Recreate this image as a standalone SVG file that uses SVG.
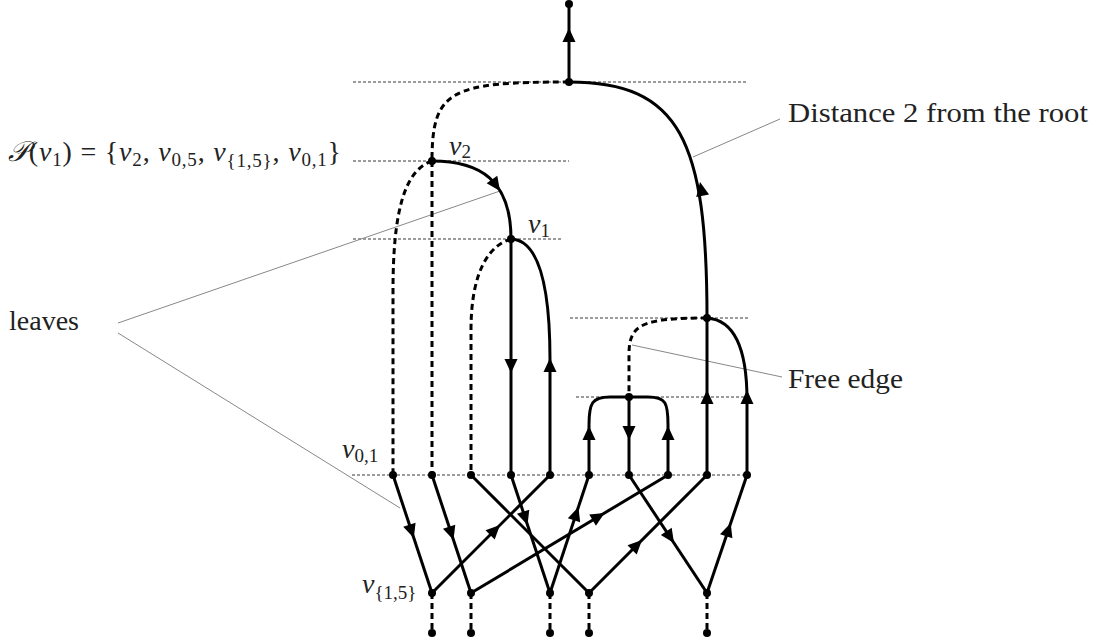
<svg xmlns="http://www.w3.org/2000/svg" xmlns:xlink="http://www.w3.org/1999/xlink" width="1100" height="643" viewBox="0 0 1100 643">
<style>
  .guide{stroke:#222;stroke-width:0.9;stroke-dasharray:3 2;fill:none}
  .ptr{stroke:#888;stroke-width:1;fill:none}
  .e{stroke:#000;stroke-width:3;fill:none;stroke-linecap:butt}
  .d{stroke:#000;stroke-width:3;fill:none;stroke-dasharray:6 4}
  .dot{fill:#000}
  .ah{fill:#000}
  text{font-family:"Liberation Serif","DejaVu Serif",serif;fill:#222;font-size:28px}
  .i{font-style:italic}
  .sub{font-size:19px}
</style>
<defs>
  <path id="ah" d="M0,0 L-14,-6.5 L-14,6.5 Z"/>
</defs>
<rect width="1100" height="643" fill="#fff"/>

<g id="guides">
  <line class="guide" x1="353" y1="82" x2="748" y2="82"/>
  <line class="guide" x1="353" y1="161" x2="569" y2="161"/>
  <line class="guide" x1="353" y1="239" x2="562" y2="239"/>
  <line class="guide" x1="570" y1="318" x2="748" y2="318"/>
  <line class="guide" x1="576" y1="397" x2="744" y2="397"/>
  <line class="guide" x1="352" y1="475" x2="747" y2="475"/>
</g>

<g id="pointers">
  <line class="ptr" x1="780" y1="119" x2="693" y2="157"/>
  <line class="ptr" x1="782" y1="377" x2="632" y2="345"/>
  <line class="ptr" x1="118" y1="323" x2="500" y2="191"/>
  <line class="ptr" x1="118" y1="333" x2="400" y2="508"/>
</g>

<g id="connectors">
  <!-- upper tree -->
  <path class="e" d="M569,82 V4"/>
  <path class="d" d="M569,82 C450,82 432,90 432,161"/>
  <path class="e" d="M569,82 C680,82 707,140 707,318"/>
  <path class="d" d="M432,161 V475"/>
  <path class="d" d="M432,161 C405,170 393,210 393,290 V475"/>
  <path class="e" d="M432,161 C480,161 511,180 511,239"/>
  <path class="e" d="M511,239 V475"/>
  <path class="d" d="M511,239 C490,245 471,270 471,330 V475"/>
  <path class="e" d="M511,239 C540,240 550,290 550,360 V475"/>
  <path class="d" d="M707,318 C640,318 629,325 629,355 V397"/>
  <path class="e" d="M707,318 V475"/>
  <path class="e" d="M707,318 C735,320 747,350 747,400 V475"/>
  <path class="e" d="M629,397 V475"/>
  <path class="e" d="M629,397 L610,397 C592,397 589,403 589,425 V475"/>
  <path class="e" d="M629,397 L648,397 C666,397 668,403 668,425 V475"/>
  <!-- crossing layer -->
  <path class="e" d="M393,475 L432,593"/>
  <path class="e" d="M432,475 L471,593"/>
  <path class="e" d="M471,475 L589,593"/>
  <path class="e" d="M511,475 L550,593"/>
  <path class="e" d="M432,593 L550,475"/>
  <path class="e" d="M550,593 L589,475"/>
  <path class="e" d="M471,593 L668,475"/>
  <path class="e" d="M589,593 L707,475"/>
  <path class="e" d="M629,475 L707,593"/>
  <path class="e" d="M707,593 L747,475"/>
  <!-- bottom stubs -->
  <path class="d" d="M432,593 V633"/>
  <path class="d" d="M471,593 V633"/>
  <path class="d" d="M550,593 V633"/>
  <path class="d" d="M589,593 V633"/>
  <path class="d" d="M707,593 V633"/>
  <!-- arrowheads -->
  <use xlink:href="#ah" class="ah" transform="translate(569,28) rotate(-90)"/>
  <use xlink:href="#ah" class="ah" transform="translate(500,191) rotate(55)"/>
  <use xlink:href="#ah" class="ah" transform="translate(511,373) rotate(90)"/>
  <use xlink:href="#ah" class="ah" transform="translate(550,358) rotate(-90)"/>
  <use xlink:href="#ah" class="ah" transform="translate(700,182) rotate(-101)"/>
  <use xlink:href="#ah" class="ah" transform="translate(589,426) rotate(-90)"/>
  <use xlink:href="#ah" class="ah" transform="translate(629,440) rotate(90)"/>
  <use xlink:href="#ah" class="ah" transform="translate(668,426) rotate(-90)"/>
  <use xlink:href="#ah" class="ah" transform="translate(707,390) rotate(-90)"/>
  <use xlink:href="#ah" class="ah" transform="translate(747,390) rotate(-90)"/>
  <use xlink:href="#ah" class="ah" transform="translate(413.8,538) rotate(71.7)"/>
  <use xlink:href="#ah" class="ah" transform="translate(453.5,540) rotate(71.7)"/>
  <use xlink:href="#ah" class="ah" transform="translate(527.5,525) rotate(71.7)"/>
  <use xlink:href="#ah" class="ah" transform="translate(500,525) rotate(-45)"/>
  <use xlink:href="#ah" class="ah" transform="translate(578.4,507) rotate(-71.7)"/>
  <use xlink:href="#ah" class="ah" transform="translate(604.6,513) rotate(-30.9)"/>
  <use xlink:href="#ah" class="ah" transform="translate(642,540) rotate(-45)"/>
  <use xlink:href="#ah" class="ah" transform="translate(674,543) rotate(56.5)"/>
  <use xlink:href="#ah" class="ah" transform="translate(730.7,523) rotate(-71.3)"/>
</g>

<g id="n-top"><circle class="dot" cx="569" cy="4" r="4"/></g>
<g id="n-root"><circle class="dot" cx="569" cy="82" r="4"/></g>
<g id="n-v2"><circle class="dot" cx="432" cy="161" r="4"/>
  <text x="449" y="155"><tspan class="i">v</tspan><tspan class="sub" dy="3">2</tspan></text></g>
<g id="n-v1"><circle class="dot" cx="511" cy="239" r="4"/>
  <text x="528" y="233"><tspan class="i">v</tspan><tspan class="sub" dy="4">1</tspan></text></g>
<g id="n-r1"><circle class="dot" cx="707" cy="318" r="4"/></g>
<g id="n-r2"><circle class="dot" cx="629" cy="397" r="4"/></g>

<g id="n-leaf1"><circle class="dot" cx="393" cy="475" r="4"/>
  <text x="342" y="458"><tspan class="i">v</tspan><tspan class="sub" dy="4">0,1</tspan></text></g>
<g id="n-leaf2"><circle class="dot" cx="432" cy="475" r="4"/></g>
<g id="n-leaf3"><circle class="dot" cx="471" cy="475" r="4"/></g>
<g id="n-leaf4"><circle class="dot" cx="511" cy="475" r="4"/></g>
<g id="n-leaf5"><circle class="dot" cx="550" cy="475" r="4"/></g>
<g id="n-leaf6"><circle class="dot" cx="589" cy="475" r="4"/></g>
<g id="n-leaf7"><circle class="dot" cx="629" cy="475" r="4"/></g>
<g id="n-leaf8"><circle class="dot" cx="668" cy="475" r="4"/></g>
<g id="n-leaf9"><circle class="dot" cx="707" cy="475" r="4"/></g>
<g id="n-leaf10"><circle class="dot" cx="747" cy="475" r="4"/></g>

<g id="n-b1"><circle class="dot" cx="432" cy="593" r="4"/>
  <text x="362" y="593"><tspan class="i">v</tspan><tspan class="sub" dy="6">{1,5}</tspan></text></g>
<g id="n-b2"><circle class="dot" cx="471" cy="593" r="4"/></g>
<g id="n-b3"><circle class="dot" cx="550" cy="593" r="4"/></g>
<g id="n-b4"><circle class="dot" cx="589" cy="593" r="4"/></g>
<g id="n-b5"><circle class="dot" cx="707" cy="593" r="4"/></g>
<g id="n-e1"><circle class="dot" cx="432" cy="633" r="4"/></g>
<g id="n-e2"><circle class="dot" cx="471" cy="633" r="4"/></g>
<g id="n-e3"><circle class="dot" cx="550" cy="633" r="4"/></g>
<g id="n-e4"><circle class="dot" cx="589" cy="633" r="4"/></g>
<g id="n-e5"><circle class="dot" cx="707" cy="633" r="4"/></g>

<g id="labels">
  <text x="8" y="161" textLength="333" lengthAdjust="spacing"><tspan class="i">𝒫</tspan>(<tspan class="i">v</tspan><tspan class="sub" dy="5">1</tspan><tspan dy="-5">) = {</tspan><tspan class="i">v</tspan><tspan class="sub" dy="5">2</tspan><tspan dy="-5">, </tspan><tspan class="i">v</tspan><tspan class="sub" dy="5">0,5</tspan><tspan dy="-5">, </tspan><tspan class="i">v</tspan><tspan class="sub" dy="6">{1,5}</tspan><tspan dy="-6">, </tspan><tspan class="i">v</tspan><tspan class="sub" dy="5">0,1</tspan><tspan dy="-5">}</tspan></text>
  <text x="9" y="330" textLength="70" lengthAdjust="spacingAndGlyphs">leaves</text>
  <text x="788" y="122" textLength="300" lengthAdjust="spacingAndGlyphs">Distance 2 from the root</text>
  <text x="788" y="388" textLength="115" lengthAdjust="spacingAndGlyphs">Free edge</text>
</g>
</svg>
